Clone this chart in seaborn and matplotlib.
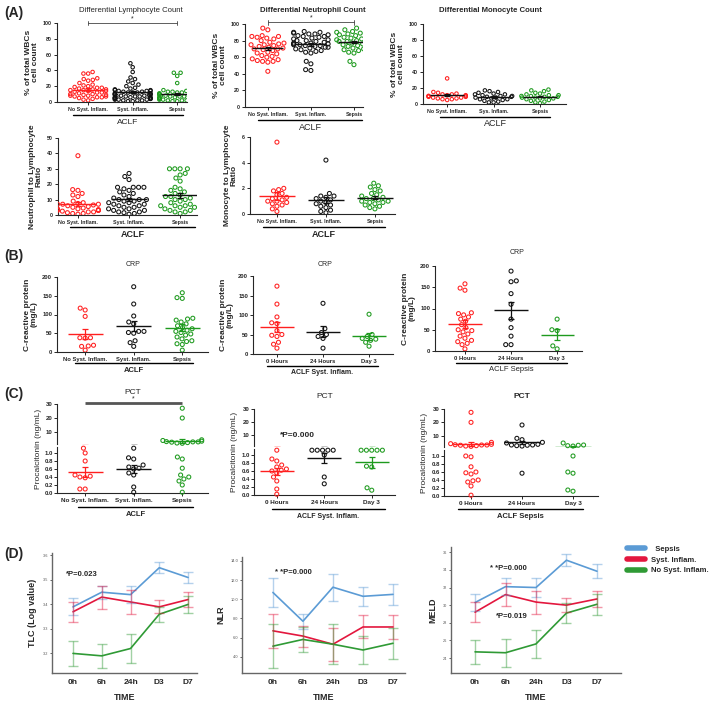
import warnings
import numpy as np
import pandas as pd
import matplotlib
matplotlib.use("Agg")
import matplotlib.pyplot as plt
from matplotlib.lines import Line2D
import seaborn as sns

warnings.filterwarnings("ignore")

W, H = 709, 701

# ---------------- data ----------------
grp3 = ["No Syst. Inflam.", "Syst. Inflam.", "Sepsis"]
grp3_sys = ["No Syst. Inflam.", "Sys. Inflam.", "Sepsis"]
days = ["0 Hours", "24 Hours", "Day 3"]
times = ["0h", "6h", "24h", "D3", "D7"]
line_groups = ["Sepsis", "Syst. Inflam.", "No Syst. Inflam."]

# (A) differential counts, % of total WBCs
lymph_no = [38, 36, 36, 30, 29, 28, 27, 24, 22, 21, 20, 19, 18, 18, 17, 16, 16, 15, 15, 14,
            14, 13, 12, 12, 11, 10, 10, 9, 9, 8, 8, 7, 7, 6, 6, 5, 4, 3, 2]
lymph_si = [49, 44, 38, 31, 29, 26, 24, 22, 20, 18, 17, 16, 15, 15, 14, 14, 14, 13, 13, 12,
            12, 12, 11, 11, 10, 10, 10, 9, 9, 9, 8, 8, 8, 7, 7, 7, 6, 6, 6, 5, 5, 5, 4, 4,
            4, 3, 3, 3, 2, 2, 2, 1, 1]
lymph_sep = [37, 37, 33, 24, 15, 14, 14, 13, 13, 12, 12, 11, 11, 10, 10, 10, 9, 9, 9, 8, 8,
             8, 7, 7, 7, 6, 6, 6, 5, 5, 5, 4, 4, 4, 3, 3, 3, 2, 2, 2, 1, 1]
neut_no = [95, 93, 86, 85, 85, 84, 83, 82, 80, 78, 77, 76, 75, 75, 74, 73, 72, 71, 70, 70,
           69, 68, 66, 65, 64, 62, 61, 60, 58, 57, 56, 55, 55, 54, 43]
neut_si = [91, 90, 90, 89, 88, 88, 87, 86, 85, 85, 84, 83, 82, 81, 80, 80, 79, 78, 77, 77,
           76, 76, 75, 75, 74, 74, 73, 72, 72, 71, 70, 69, 68, 67, 66, 65, 55, 52, 45, 44]
neut_sep = [95, 93, 91, 90, 90, 89, 88, 87, 86, 85, 84, 83, 82, 82, 81, 80, 80, 79, 79, 78,
            77, 76, 75, 74, 73, 71, 70, 70, 69, 68, 66, 65, 55, 51]
mono_no = [32, 15, 14, 13, 12, 12, 11, 11, 10, 10, 10, 9, 9, 8, 8, 7, 7, 6, 6, 5]
mono_si = [17, 16, 15, 14, 13, 12, 12, 11, 10, 10, 9, 9, 8, 8, 7, 6, 6, 5, 4, 3, 2, 2]
mono_sep = [18, 17, 16, 14, 13, 12, 11, 11, 10, 10, 9, 9, 8, 8, 7, 7, 6, 5, 4, 3, 2, 1]
nlr_no = [38.5, 16.5, 16, 14, 13, 12, 9, 8, 7.5, 7, 7, 7, 6.5, 6, 5.5, 5, 4.5, 4, 4, 3.5,
          3.5, 3, 3, 3, 2.5, 2, 2, 1.5, 1, 1, 0.5]
nlr_si = [27, 25, 23, 18, 18, 18, 18, 17, 16, 15, 14, 13, 12, 11, 10, 10, 10, 9, 9, 8, 8,
          7, 7, 6, 6, 5, 5, 4, 4, 3, 3, 2, 2, 1.5, 1, 0.5]
nlr_sep = [30, 30, 30, 30, 27, 26, 24, 22, 18, 17, 16, 15, 14, 13, 12, 12, 11, 10, 10, 9,
           8, 7, 6, 6, 6, 5, 5, 5, 4, 3, 3, 2, 2, 1]
mlr_no = [5.6, 2.0, 1.9, 1.8, 1.6, 1.5, 1.3, 1.2, 1.1, 1.0, 1.0, 0.9, 0.8, 0.7, 0.6, 0.4, 0.2]
mlr_si = [4.2, 1.6, 1.4, 1.4, 1.3, 1.2, 1.1, 1.0, 0.9, 0.8, 0.7, 0.6, 0.5, 0.3, 0.2, 0.1]
mlr_sep = [2.4, 2.2, 2.1, 1.9, 1.8, 1.6, 1.5, 1.4, 1.3, 1.2, 1.2, 1.1, 1.0, 1.0, 0.9, 0.9,
           0.8, 0.7, 0.6, 0.5, 0.4]

# (B) CRP, mg/L
crp_no = [117, 112, 95, 38, 38, 37, 18, 16, 15, 5]
crp_si = [174, 128, 96, 80, 75, 55, 55, 52, 50, 30, 25, 15]
crp_sep = [158, 145, 143, 90, 88, 85, 80, 75, 70, 65, 62, 58, 55, 52, 48, 45, 40, 35, 30,
           28, 22, 20, 5]
crp_si_0h = [174, 128, 95, 80, 78, 60, 50, 48, 45, 30, 25, 15]
crp_si_24h = [130, 65, 55, 50, 45, 40, 15]
crp_si_d3 = [102, 50, 45, 40, 38, 35, 30, 20]
crp_sep_0h = [158, 148, 143, 90, 88, 85, 80, 75, 70, 62, 55, 50, 48, 45, 40, 35, 30, 25,
              22, 18, 15, 5]
crp_sep_24h = [188, 165, 163, 135, 110, 75, 55, 35, 15, 15]
crp_sep_d3 = [75, 50, 48, 12, 5]

# (C) PCT, ng/mL
pct_no = [1.12, 1.0, 0.8, 0.45, 0.42, 0.4, 0.38, 0.1, 0.1]
pct_si = [1.12, 0.88, 0.85, 0.7, 0.65, 0.62, 0.6, 0.5, 0.45, 0.15, 0.02]
pct_sep = [27, 20, 4.5, 4, 3.5, 3.2, 3, 3, 2.8, 2.5, 2.2, 2, 0.9, 0.85, 0.62, 0.45, 0.4,
           0.35, 0.3, 0.2, 0.02]
pct_si_0h = [1.12, 0.9, 0.85, 0.75, 0.7, 0.65, 0.62, 0.6, 0.55, 0.45, 0.35, 0.15, 0.02]
pct_si_24h = [1.12, 1.12, 1.12, 1.12, 1.12, 1.0, 0.45, 0.28]
pct_si_d3 = [1.12, 1.12, 1.12, 1.12, 1.12, 0.72, 0.7, 0.18, 0.12]
pct_sep_0h = [27.5, 20, 5, 4, 3.5, 3.2, 3, 3, 2.8, 2.5, 2.2, 2, 1.0, 0.98, 0.73, 0.6, 0.58,
              0.55, 0.4, 0.38, 0.35, 0.25, 0.02]
pct_sep_24h = [18, 8, 7, 5, 4.5, 3.5, 3, 3, 2.8, 2.5, 2.2, 0.57]
pct_sep_d3 = [4.5, 3, 2.8, 2.5, 2.2, 1.0, 0.6, 0.57, 0.15, 0.12]

# (D) time course, mean and SEM
tlc_sep = [3.39, 3.45, 3.44, 3.55, 3.51]
tlc_sep_se = [0.035, 0.027, 0.035, 0.022, 0.022]
tlc_si = [3.37, 3.43, 3.41, 3.39, 3.42]
tlc_si_se = [0.04, 0.047, 0.049, 0.027, 0.03]
tlc_no = [3.20, 3.19, 3.22, 3.36, 3.40]
tlc_no_se = [0.05, 0.049, 0.06, 0.03, 0.033]
nlrt_sep = [10.7, 7.7, 11.25, 10.3, 10.5]
nlrt_sep_se = [1.5, 0.8, 1.4, 1.0, 1.1]
nlrt_si = [6.7, 6.15, 5.3, 7.1, 7.1]
nlrt_si_se = [1.8, 1.1, 1.7, 1.2, 1.25]
nlrt_no = [5.1, 5.8, 5.3, 4.7, 5.4]
nlrt_no_se = [2.3, 1.35, 2.1, 1.5, 1.6]
meld_sep = [30.3, 32.1, 32.0, 35.1, 33.85]
meld_sep_se = [1.0, 1.0, 1.1, 0.65, 0.8]
meld_si = [29.2, 31.2, 30.35, 30.0, 30.7]
meld_si_se = [1.15, 1.3, 1.3, 0.8, 0.95]
meld_no = [24.7, 24.6, 25.6, 29.1, 30.1]
meld_no_se = [1.4, 1.6, 1.6, 1.1, 1.2]

# ---------------- style ----------------
RED, BLACK, GREEN = "#ff1f1f", "#111111", "#1e9a1e"
DOT_COLS = [RED, BLACK, GREEN]
LINE_COLS = {"Sepsis": "#5b9bd5", "Syst. Inflam.": "#e3173e", "No Syst. Inflam.": "#2f9a35"}

sns.set_style("ticks")
plt.rcParams["font.family"] = ["Liberation Sans", "DejaVu Sans"]
plt.rcParams["axes.linewidth"] = 0.8

fig = plt.figure(figsize=(W / 100, H / 100), dpi=100)


def box(x0, y0, x1, y1):
    return [x0 / W, 1 - y1 / H, (x1 - x0) / W, (y1 - y0) / H]


def ftext(x, y, s, **kw):
    kw.setdefault("ha", "center")
    kw.setdefault("va", "center")
    fig.text(x / W, 1 - y / H, s, **kw)


def fline(x0, x1, y, lw=1.0, color="black"):
    fig.add_artist(Line2D([x0 / W, x1 / W], [1 - y / H, 1 - y / H], lw=lw, color=color))


def hollow(ax, clip=True):
    for coll in ax.collections:
        fc = coll.get_facecolors()
        if len(fc):
            coll.set_edgecolors(fc)
            coll.set_facecolors("none")
            coll.set_clip_on(clip)


def dots(ax, labels, values, mean_cols, lo=-np.inf, hi=np.inf, size=2.9):
    shown = [[x for x in v if lo <= x <= hi] for v in values]
    df = pd.DataFrame({"grp": np.repeat(labels, [len(v) for v in shown]),
                       "val": np.concatenate(shown)})
    sns.swarmplot(data=df, x="grp", y="val", hue="grp", order=labels, hue_order=labels,
                  palette=dict(zip(labels, DOT_COLS)), size=size, linewidth=0.75,
                  legend=False, ax=ax)
    hollow(ax, clip=np.isinf(lo) and np.isinf(hi))
    for i, (v, c) in enumerate(zip(values, mean_cols)):
        m = np.mean(v)
        se = np.std(v, ddof=1) / np.sqrt(len(v))
        ax.hlines(m, i - 0.36, i + 0.36, color=c, lw=1.0, zorder=5)
        ax.errorbar(i, m, yerr=se, color=c, capsize=2.5, lw=0.9, capthick=0.9, zorder=5)
    ax.set_xlabel("")
    ax.set_ylabel("")


def cat_axis(ax, xlim, labels, fs=3.8):
    ax.set_xlim(xlim)
    ax.set_xticks(range(len(labels)))
    ax.set_xticklabels(labels, fontsize=fs, fontweight="bold")
    ax.tick_params(length=2, width=0.7, pad=1.5, labelsize=fs)
    for t in ax.get_yticklabels():
        t.set_fontweight("bold")
    sns.despine(ax=ax)


def dot_panel(bx, labels, values, xlim, ylim, yticks, mean_cols, ylabel, fs=3.8, size=2.9):
    ax = fig.add_axes(box(*bx))
    dots(ax, labels, values, mean_cols, size=size)
    ax.set_ylim(ylim)
    ax.set_yticks(yticks)
    cat_axis(ax, xlim, labels, fs)
    ax.set_ylabel(ylabel, fontsize=6, fontweight="bold", labelpad=3, linespacing=1.0)
    return ax


def group_bar(x0, x1, y, ytxt, s, fs=6, weight="normal"):
    fline(x0, x1, y)
    ftext((x0 + x1) / 2, ytxt, s, fontsize=fs, fontweight=weight)


# ---------------- (A) ----------------
ftext(4, 13, "(A)", fontsize=10, fontweight="bold", ha="left")
wbc = "% of total WBCs\ncell count"
a1 = dot_panel((57, 23, 187, 102), grp3, [lymph_no, lymph_si, lymph_sep], (-0.70, 2.22),
               (0, 100), range(0, 101, 20), [RED, BLACK, BLACK], wbc, size=2.5)
a1.plot([0, 2], [100, 100], color="#444444", lw=0.6, clip_on=False)
a1.plot([0, 0], [97, 103], color="#444444", lw=0.6, clip_on=False)
a1.plot([2, 2], [97, 103], color="#444444", lw=0.6, clip_on=False)
a1.text(1, 101, "*", ha="center", va="bottom", fontsize=5)
ftext(131, 11, "Differential Lymphocyte Count", fontsize=5.6)
group_bar(73, 183, 115, 123, "ACLF")

a2 = dot_panel((245, 24, 363, 107), grp3, [neut_no, neut_si, neut_sep], (-0.53, 2.21),
               (0, 100), range(0, 101, 20), [BLACK, BLACK, BLACK], wbc)
a2.plot([0, 2], [102, 102], color="#444444", lw=0.6, clip_on=False)
a2.plot([0, 0], [99, 105], color="#444444", lw=0.6, clip_on=False)
a2.plot([2, 2], [99, 105], color="#444444", lw=0.6, clip_on=False)
a2.text(1, 103, "*", ha="center", va="bottom", fontsize=5)
ftext(313, 10, "Differential Neutrophil Count", fontsize=5.6, fontweight="bold")
group_bar(258, 362, 120, 128, "ACLF", fs=6.5)

a3 = dot_panel((423, 24, 566, 104), grp3_sys, [mono_no, mono_si, mono_sep], (-0.52, 2.56),
               (0, 100), range(0, 101, 20), [BLACK, BLACK, BLACK], wbc, size=2.5)
ftext(490, 11, "Differential Monocyte Count", fontsize=5.6, fontweight="bold")
group_bar(440, 550, 117, 124, "ACLF", fs=6.5)

a4 = dot_panel((58, 138, 197, 215), grp3, [nlr_no, nlr_si, nlr_sep], (-0.39, 2.33),
               (0, 50), range(0, 51, 10), [RED, BLACK, BLACK],
               "Neutrophil to Lymphocyte\nRatio")
group_bar(70, 195, 227, 234, "ACLF", fs=6.5, weight="bold")

a5 = dot_panel((250, 137, 395, 214), grp3, [mlr_no, mlr_si, mlr_sep], (-0.55, 2.41),
               (0, 6), range(0, 7, 2), [RED, BLACK, BLACK],
               "Monocyte to Lymphocyte\nRatio")
group_bar(263, 385, 227, 234, "ACLF", fs=6.5, weight="bold")

# ---------------- (B) ----------------
ftext(4, 256, "(B)", fontsize=10, fontweight="bold", ha="left")
crp_lab = "C-reactive protein\n(mg/L)"
dot_panel((57, 277, 208, 352), grp3, [crp_no, crp_si, crp_sep], (-0.58, 2.53),
          (0, 200), range(0, 201, 50), DOT_COLS, crp_lab, fs=4.2)
ftext(133, 264, "CRP", fontsize=5)
group_bar(75, 193, 363, 371, "ACLF", fs=5.5, weight="bold")

dot_panel((253, 276, 393, 354), days, [crp_si_0h, crp_si_24h, crp_si_d3], (-0.52, 2.52),
          (0, 200), range(0, 201, 50), DOT_COLS, crp_lab, fs=4.2)
ftext(325, 264, "CRP", fontsize=5)
group_bar(267, 378, 366, 372, "ACLF Syst. Inflam.", fs=5, weight="bold")

dot_panel((435, 266, 582, 351), days, [crp_sep_0h, crp_sep_24h, crp_sep_d3], (-0.65, 2.54),
          (0, 200), range(0, 201, 50), DOT_COLS, crp_lab, fs=4.2)
ftext(517, 252, "CRP", fontsize=5)
group_bar(456, 567, 363, 370, "ACLF Sepsis", fs=5.5)


# ---------------- (C) ----------------
def pct_panel(hi_box, lo_box, labels, values, xlim, ylab_x, title_xy, title_bold=False):
    ax_hi = fig.add_axes(box(*hi_box))
    ax_lo = fig.add_axes(box(*lo_box))
    dots(ax_hi, labels, values, DOT_COLS, lo=1.5)
    dots(ax_lo, labels, values, DOT_COLS, hi=1.15)
    for ax in (ax_hi, ax_lo):
        cat_axis(ax, xlim, labels, fs=4.6)
    ax_hi.set_ylim(1.5, 30)
    ax_hi.set_yticks([10, 20, 30])
    ax_hi.spines["bottom"].set_visible(False)
    ax_hi.tick_params(axis="x", bottom=False, labelbottom=False)
    ax_lo.set_ylim(0, 1.15)
    ax_lo.set_yticks(np.arange(0, 1.01, 0.2))
    ax_lo.set_yticklabels([f"{v:.1f}" for v in np.arange(0, 1.01, 0.2)])
    for ax in (ax_hi, ax_lo):
        ax.tick_params(axis="y", labelsize=4.3, pad=1)
        for t in ax.get_yticklabels():
            t.set_fontweight("bold")
    yc = (hi_box[1] + lo_box[3]) / 2
    ftext(ylab_x, yc, "Procalcitonin (ng/mL)", fontsize=6, rotation=90)
    ftext(*title_xy, "PCT", fontsize=6, fontweight="bold" if title_bold else "normal")
    return ax_hi, ax_lo


ftext(4, 394, "(C)", fontsize=10, fontweight="bold", ha="left")
c1h, c1l = pct_panel((57, 404, 208, 444), (57, 447, 208, 493), grp3,
                     [pct_no, pct_si, pct_sep], (-0.58, 2.53), 38, (133, 392))
c1h.plot([0, 2], [30.5, 30.5], color="#555555", lw=2, clip_on=False, solid_capstyle="butt")
c1h.text(1, 30.8, "*", ha="center", va="bottom", fontsize=5)
group_bar(78, 193, 507, 514, "ACLF", fs=5.5, weight="bold")

c2h, c2l = pct_panel((254, 409, 395, 446), (254, 449, 395, 495), days,
                     [pct_si_0h, pct_si_24h, pct_si_d3], (-0.48, 2.49), 235, (325, 396))
ftext(297, 436, "*P=0.000", fontsize=6, fontweight="bold")
group_bar(272, 385, 509, 516, "ACLF Syst. Inflam.", fs=5, weight="bold")

c3h, c3l = pct_panel((444, 409, 598, 447), (444, 450, 598, 496), days,
                     [pct_sep_0h, pct_sep_24h, pct_sep_d3], (-0.53, 2.49), 425, (522, 396),
                     title_bold=True)
group_bar(458, 583, 509, 516, "ACLF Sepsis", fs=5.5, weight="bold")


# ---------------- (D) ----------------
def line_panel(bx, means, ses, xlim, ylim, yticks, fmt, ylabel):
    ax = fig.add_axes(box(*bx))
    df = pd.DataFrame({"t": np.tile(np.arange(len(times)), len(line_groups)),
                       "v": np.concatenate(means),
                       "g": np.repeat(line_groups, len(times))})
    sns.lineplot(data=df, x="t", y="v", hue="g", palette=LINE_COLS, lw=1.2,
                 legend=False, ax=ax)
    for g, m, s in zip(line_groups, means, ses):
        ax.errorbar(np.arange(len(times)), m, yerr=s, fmt="none", ecolor=LINE_COLS[g],
                    alpha=0.45, capsize=3.5, lw=1.0, capthick=1.0)
    ax.set_xlim(xlim)
    ax.set_ylim(ylim)
    ax.set_xticks(range(len(times)))
    ax.set_xticklabels(times, fontsize=6, fontweight="bold")
    ax.set_yticks(yticks)
    ax.set_yticklabels([fmt.format(v) for v in yticks], fontsize=2.8, color="#555555")
    ax.tick_params(axis="x", length=0, pad=4)
    ax.tick_params(axis="y", length=1.5, width=0.5, pad=1)
    ax.set_xlabel("TIME", fontsize=6.5, fontweight="bold", labelpad=5)
    ax.set_ylabel(ylabel, fontsize=6.5, fontweight="bold", labelpad=4)
    for sp in ("left", "bottom"):
        ax.spines[sp].set_color("#666666")
        ax.spines[sp].set_linewidth(1.0)
    sns.despine(ax=ax)
    return ax


ftext(4, 554, "(D)", fontsize=10, fontweight="bold", ha="left")
line_panel((52, 553, 197, 673), [tlc_sep, tlc_si, tlc_no], [tlc_sep_se, tlc_si_se, tlc_no_se],
           (-0.73, 4.31), (3.12, 3.61), [3.2, 3.3, 3.4, 3.5, 3.6], "{:.1f}", "TLC (Log value)")
ftext(82, 574, "*P=0.023", fontsize=5.5, fontweight="bold")
line_panel((242, 557, 405, 673), [nlrt_sep, nlrt_si, nlrt_no],
           [nlrt_sep_se, nlrt_si_se, nlrt_no_se], (-1.03, 4.4), (2.3, 14.4),
           [4.0, 6.0, 8.0, 10.0, 12.0, 14.0], "{:.1f}", "NLR")
ftext(293, 573, "* *P=0.000", fontsize=5.5, fontweight="bold")
line_panel((451, 547, 621, 673), [meld_sep, meld_si, meld_no],
           [meld_sep_se, meld_si_se, meld_no_se], (-0.79, 4.79), (22.3, 36.6),
           [24, 26, 28, 30, 32, 34, 36], "{:.0f}", "MELD")
ftext(508, 568, "* *P=0.000", fontsize=5.5, fontweight="bold")
ftext(512, 617, "*P=0.019", fontsize=5.5, fontweight="bold")

handles = [Line2D([], [], color=LINE_COLS[g], lw=4) for g in line_groups]
fig.legend(handles, ["  Sepsis", "Syst. Inflam.", "No Syst. Inflam."],
           loc="center left", bbox_to_anchor=(620 / W, 1 - 560 / H), frameon=False,
           prop={"size": 5.5, "weight": "bold"}, handlelength=2.4, labelspacing=0.45,
           handletextpad=0.8)

fig.savefig("out.png", dpi=100)
